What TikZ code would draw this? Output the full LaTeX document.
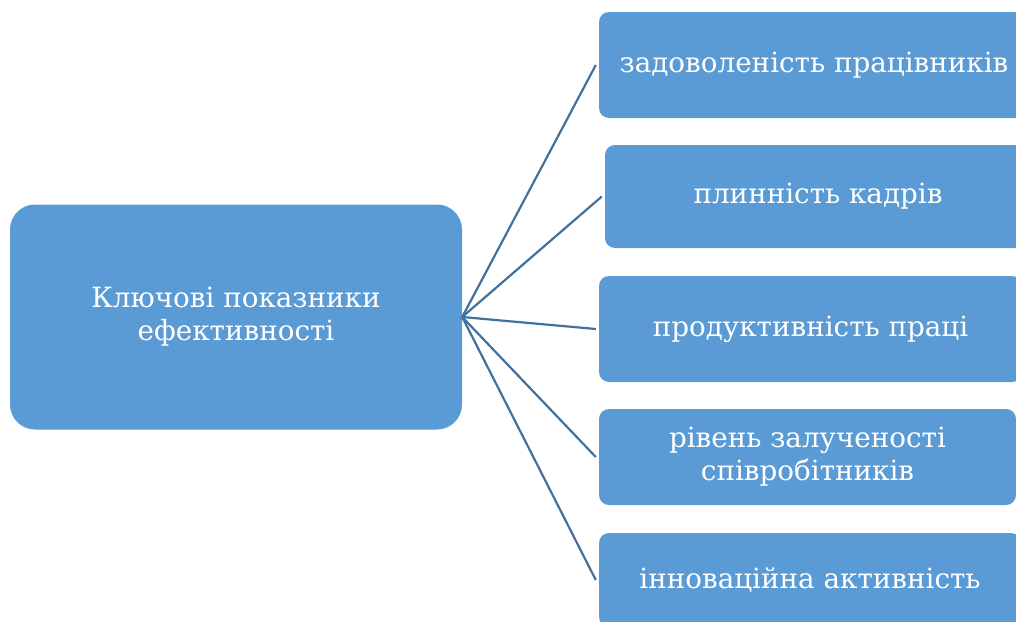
\documentclass[tikz,border=0pt]{standalone}
\usepackage{fontspec}
\setmainfont{DejaVu Serif}
\definecolor{boxblue}{HTML}{5B9BD5}
\definecolor{lineblue}{HTML}{41719C}
\begin{document}
\begin{tikzpicture}[x=1pt,y=-1pt,
  box/.style={fill=boxblue, text=white, inner sep=0pt, align=center,
    font=\fontsize{27.8}{33}\selectfont, rounded corners=10pt,
    minimum width=417pt},
  link/.style={draw=lineblue, line width=2.2pt}]
\useasboundingbox (0,0) rectangle (1016,621);
\clip (0,0) rectangle (1016,621);
\node[box, rounded corners=25pt, minimum width=452pt, minimum height=225pt] (kpi) at (236,317) {Ключові показники\\ефективності};
\node[box, minimum width=430pt, minimum height=106pt] (b1) at (814,65) {задоволеність працівників};
\node[box, minimum width=426pt, minimum height=103pt] (b2) at (818,196.5) {плинність кадрів};
\node[box, minimum width=423pt, minimum height=106pt] (b3) at (810.5,329) {продуктивність праці};
\node[box, minimum height=96pt] (b4) at (807.5,457) {рівень залученості\\співробітників};
\node[box, minimum width=422pt, minimum height=94pt] (b5) at (810,580) {інноваційна активність};
\foreach \b in {b1,b2,b3,b4,b5}
  \draw[link] (kpi.east) -- ([xshift=-3pt]\b.west);
\end{tikzpicture}
\end{document}
